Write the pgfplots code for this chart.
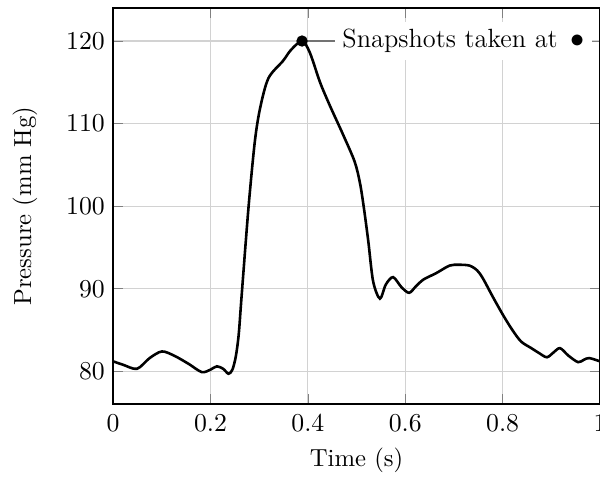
\documentclass[border=0pt]{standalone}
\usepackage{pgfplots}
\pgfplotsset{compat=1.18}
\begin{document}
\begin{tikzpicture}
\begin{axis}[
  scale only axis,
  width=207pt, height=168.5pt,
  xmin=0, xmax=1, ymin=76, ymax=124,
  xtick={0,0.2,0.4,0.6,0.8,1},
  ytick={80,90,100,110,120},
  tick align=inside,
  grid=major,
  major grid style={gray!35, line width=0.5pt},
  axis line style={black, line width=0.7pt},
  ticklabel style={font=\fontsize{11}{13}\selectfont},
  label style={font=\fontsize{10.5}{12.5}\selectfont},
  xlabel={Time (s)},
  ylabel={Pressure (mm Hg)},
  xlabel style={at={(axis description cs:0.5,-0.141)}, anchor=center},
  ylabel style={at={(axis description cs:-0.181,0.5)}, anchor=center},
  xticklabel style={yshift=-1.0pt},
  clip=false,
]
\addplot[black, line width=1.1pt, smooth, tension=0.5] coordinates {
(0,81.2) (0.02,80.8) (0.049,80.3) (0.075,81.6) (0.1,82.4) (0.125,81.9)
(0.155,80.9) (0.182,79.9) (0.2,80.2) (0.213,80.6) (0.226,80.3) (0.237,79.7)
(0.245,80.2) (0.252,81.8) (0.258,84.5) (0.264,89.2) (0.278,99.8) (0.291,107.8)
(0.302,111.9) (0.319,115.5) (0.349,117.6) (0.365,118.9) (0.388,120) (0.404,118.6)
(0.425,115.0) (0.445,112.2) (0.472,108.7) (0.496,105.4) (0.507,102.8) (0.515,99.8)
(0.524,95.8) (0.534,90.9) (0.548,88.8) (0.56,90.5) (0.575,91.4) (0.592,90.2)
(0.608,89.5) (0.622,90.3) (0.637,91.1) (0.664,91.9) (0.691,92.8) (0.71,92.9)
(0.732,92.8) (0.748,92.2) (0.76,91.2) (0.78,89.0) (0.801,86.8) (0.82,85.0)
(0.838,83.6) (0.859,82.8) (0.875,82.2) (0.891,81.7) (0.905,82.3) (0.918,82.8)
(0.935,81.9) (0.955,81.1) (0.967,81.4) (0.978,81.6) (1,81.2)
};
\addplot[only marks, mark=*, mark size=2.2pt, black] coordinates {(0.388,120)};
\node[coordinate, pin={[pin edge={black!55, line width=0.6pt}, pin distance=14pt, fill=white, inner sep=3pt, font=\fontsize{11.2}{13}\selectfont]0:{Snapshots taken at\, {\large$\bullet$}}}] at (axis cs:0.388,120) {};
\end{axis}
\pgfresetboundingbox
\path[use as bounding box] ([xshift=-48.1pt,yshift=-30.6pt]current axis.south west) rectangle ([yshift=3.4pt]current axis.north east);
\end{tikzpicture}
\end{document}
